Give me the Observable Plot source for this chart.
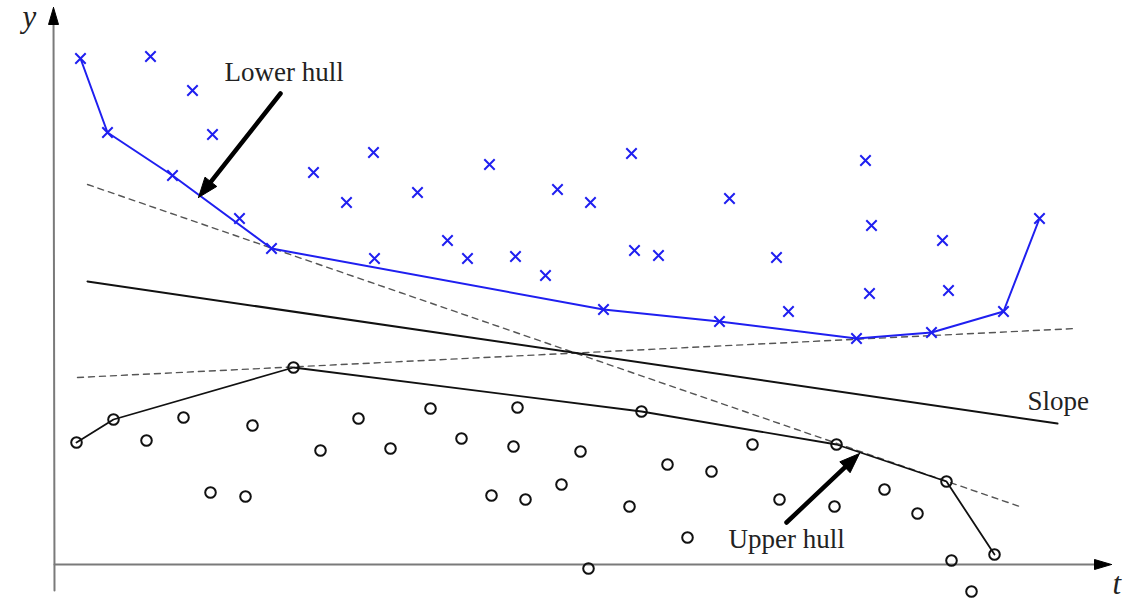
<!DOCTYPE html>
<html>
<head>
<meta charset="utf-8">
<script src="https://cdn.jsdelivr.net/npm/d3@7"></script>
<script src="https://cdn.jsdelivr.net/npm/@observablehq/plot@0.6"></script>
<style>
  html, body { margin: 0; padding: 0; background: #fff; }
  #chart svg { display: block; }
</style>
</head>
<body>
<div id="chart"></div>
<script>
// ---- data (t, y) ----
const crossT = [26, 96, 138, 53, 158, 118, 185, 217, 259, 292, 319, 320, 363, 393, 413, 435, 461, 491, 503, 536, 549, 577, 580, 604, 675, 665, 722, 734, 811, 817, 815, 802, 888, 894, 877, 949, 985];
const crossY = [506, 508, 474, 432, 430, 389, 346, 316, 392, 362, 412, 306, 372, 324, 306, 400, 308, 289, 375, 362, 255, 411, 314, 309, 366, 243, 307, 253, 404, 339, 271, 226, 324, 274, 232, 253, 346];
const lowerHullIdx = [0, 3, 5, 7, 20, 25, 31, 34, 35, 36];

const circleT = [22, 59, 92, 129, 156, 191, 198, 239, 266, 304, 336, 376, 407, 437, 463, 459, 471, 507, 526, 534, 575, 587, 613, 633, 657, 698, 725, 782, 780, 830, 863, 892, 897, 940, 917];
const circleY = [122, 145, 124, 147, 72, 68, 139, 197, 114, 146, 116, 156, 126, 69, 157, 118, 65, 80, 113, -4, 58, 153, 100, 27, 93, 120, 65, 120, 58, 75, 51, 83, 4, 10, -27];
const upperHullIdx = [0, 1, 7, 21, 27, 31, 33];

// straight lines: [t1, y1, t2, y2]
const dashedLines = [[33, 380, 968, 57], [23, 187, 1021, 236]];
const slopeLine = [33, 283, 1003, 141];

// annotation arrows: [tailT, tailY, tipT, tipY]
const annotArrows = [[226, 471, 144, 367], [732, 42, 805, 111]];
// axes: [fromT, fromY, toT, toY]
const axes = [[0, -26, -1, 557], [0, 0, 1057, 0]];

const labels = [
  {t: 170, y: 484, text: "Lower hull"},
  {t: 674, y: 17, text: "Upper hull"},
  {t: 973, y: 155, text: "Slope"}
];
const axisLabels = [
  {t: -32, y: 538, text: "y"},
  {t: 1058, y: -29, text: "t"}
];

// ---- helpers building mark tables from the data ----
const crosses = crossT.map((t, i) => ({t, y: crossY[i]}));
const circles = circleT.map((t, i) => ({t, y: circleY[i]}));
const lowerHull = lowerHullIdx.map(i => crosses[i]);
const upperHull = upperHullIdx.map(i => circles[i]);
const segs = (arr, g) => arr.flatMap((s, k) => [{t: s[0], y: s[1], g: g + k}, {t: s[2], y: s[3], g: g + k}]);

// filled triangular head + shaft ending at the head's base
function arrowParts(list, headLen, headW, g) {
  const heads = [], shafts = [];
  list.forEach((a, k) => {
    const [x1, y1, x2, y2] = a;
    const dx = x2 - x1, dy = y2 - y1, L = Math.hypot(dx, dy);
    const ux = dx / L, uy = dy / L, px = -uy, py = ux;
    const bx = x2 - ux * headLen, by = y2 - uy * headLen;
    const id = g + k;
    heads.push({t: x2, y: y2, g: id}, {t: bx + px * headW / 2, y: by + py * headW / 2, g: id},
               {t: bx - px * headW / 2, y: by - py * headW / 2, g: id}, {t: x2, y: y2, g: id});
    shafts.push({t: x1, y: y1, g: id}, {t: bx + ux * 2, y: by + uy * 2, g: id});
  });
  return {heads, shafts};
}
const ann = arrowParts(annotArrows, 20, 15, "a");
const ax = arrowParts(axes, 17, 10, "x");

const serif = "'Liberation Serif', 'DejaVu Serif', serif";
const blue = "#1f1ff0";

const plot = Plot.plot({
  width: 1138,
  height: 601,
  margin: 0,
  x: {domain: [-54, 1084], range: [0, 1138], axis: null},
  y: {domain: [-37, 564], range: [601, 0], axis: null},
  style: {background: "#fff"},
  marks: [
    // axes
    Plot.line(ax.shafts, {x: "t", y: "y", z: "g", stroke: "#7a7a7a", strokeWidth: 2}),
    Plot.line(ax.heads, {x: "t", y: "y", z: "g", fill: "#000", stroke: "#000", strokeWidth: 1}),
    // dashed support lines
    Plot.line(segs(dashedLines, "d"), {x: "t", y: "y", z: "g", stroke: "#555", strokeWidth: 1.4, strokeDasharray: "6,5"}),
    // slope
    Plot.line(segs([slopeLine], "s"), {x: "t", y: "y", z: "g", stroke: "#111", strokeWidth: 2}),
    // hulls
    Plot.line(lowerHull, {x: "t", y: "y", stroke: blue, strokeWidth: 2}),
    Plot.line(upperHull, {x: "t", y: "y", stroke: "#111", strokeWidth: 1.8}),
    // points
    Plot.dot(crosses, {x: "t", y: "y", symbol: "times", r: 4.8, stroke: blue, strokeWidth: 2}),
    Plot.dot(circles, {x: "t", y: "y", r: 5.3, stroke: "#111", strokeWidth: 2, fill: "none"}),
    // annotation arrows
    Plot.line(ann.shafts, {x: "t", y: "y", z: "g", stroke: "#000", strokeWidth: 4.5}),
    Plot.line(ann.heads, {x: "t", y: "y", z: "g", fill: "#000", stroke: "#000", strokeWidth: 1}),
    // labels
    Plot.text(labels, {x: "t", y: "y", text: "text", textAnchor: "start", lineAnchor: "bottom",
      fontFamily: serif, fontSize: 27, fill: "#222"}),
    Plot.text(axisLabels, {x: "t", y: "y", text: "text", textAnchor: "start", lineAnchor: "bottom",
      fontFamily: serif, fontSize: 31, fontStyle: "italic", fill: "#222"})
  ]
});
document.getElementById("chart").appendChild(plot);
</script>
</body>
</html>
